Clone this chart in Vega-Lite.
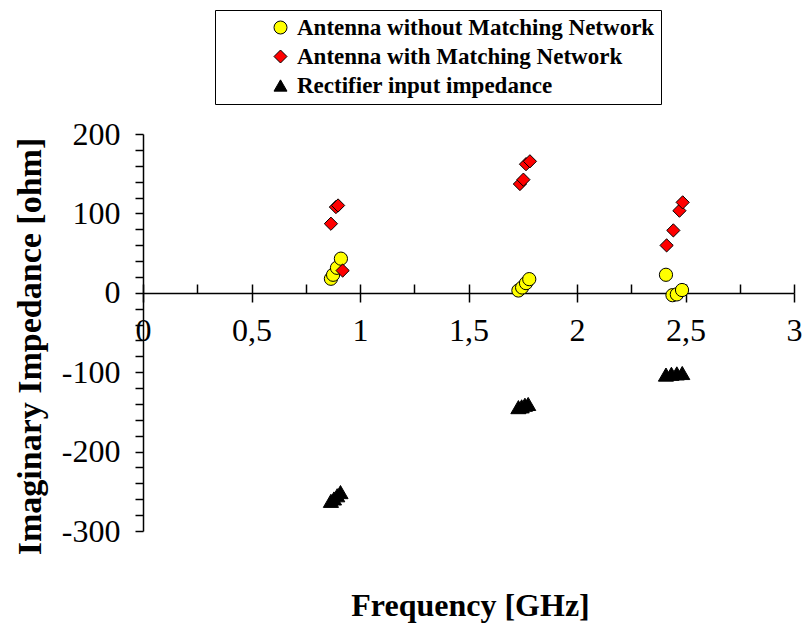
{
  "$schema": "https://vega.github.io/schema/vega-lite/v6.json",
  "width": 651,
  "height": 397,
  "autosize": "none",
  "padding": {"left": 143, "top": 134, "right": 11, "bottom": 102},
  "background": "white",
  "config": {
    "view": {"stroke": null},
    "axis": {
      "grid": false,
      "domainColor": "black",
      "tickColor": "black",
      "labelColor": "black",
      "titleColor": "black",
      "labelFont": "Liberation Serif",
      "titleFont": "Liberation Serif",
      "labelFontSize": 32,
      "titleFontSize": 32,
      "labelFontWeight": "normal",
      "titleFontWeight": "bold",
      "domainWidth": 1.5,
      "tickWidth": 1.5
    }
  },
  "data": {
    "values": [
      {"series": "Antenna without Matching Network", "freq": 0.866, "imag": 17.7},
      {"series": "Antenna without Matching Network", "freq": 0.876, "imag": 22.7},
      {"series": "Antenna without Matching Network", "freq": 0.894, "imag": 31.5},
      {"series": "Antenna without Matching Network", "freq": 0.912, "imag": 43},
      {"series": "Antenna without Matching Network", "freq": 1.73, "imag": 2.9},
      {"series": "Antenna without Matching Network", "freq": 1.747, "imag": 6.7},
      {"series": "Antenna without Matching Network", "freq": 1.765, "imag": 12.2},
      {"series": "Antenna without Matching Network", "freq": 1.78, "imag": 17.2},
      {"series": "Antenna without Matching Network", "freq": 2.41, "imag": 22.7},
      {"series": "Antenna without Matching Network", "freq": 2.44, "imag": -3},
      {"series": "Antenna without Matching Network", "freq": 2.46, "imag": -2},
      {"series": "Antenna without Matching Network", "freq": 2.484, "imag": 3.5},
      {"series": "Antenna with Matching Network", "freq": 0.866, "imag": 87},
      {"series": "Antenna with Matching Network", "freq": 0.889, "imag": 108},
      {"series": "Antenna with Matching Network", "freq": 0.899, "imag": 110},
      {"series": "Antenna with Matching Network", "freq": 0.92, "imag": 28},
      {"series": "Antenna with Matching Network", "freq": 1.737, "imag": 137},
      {"series": "Antenna with Matching Network", "freq": 1.753, "imag": 142.5},
      {"series": "Antenna with Matching Network", "freq": 1.765, "imag": 162},
      {"series": "Antenna with Matching Network", "freq": 1.783, "imag": 165.6},
      {"series": "Antenna with Matching Network", "freq": 2.413, "imag": 59.7},
      {"series": "Antenna with Matching Network", "freq": 2.444, "imag": 78.6},
      {"series": "Antenna with Matching Network", "freq": 2.472, "imag": 103.4},
      {"series": "Antenna with Matching Network", "freq": 2.487, "imag": 113.9},
      {"series": "Rectifier input impedance", "freq": 0.866, "imag": -262},
      {"series": "Rectifier input impedance", "freq": 0.88, "imag": -259},
      {"series": "Rectifier input impedance", "freq": 0.895, "imag": -255},
      {"series": "Rectifier input impedance", "freq": 0.91, "imag": -251},
      {"series": "Rectifier input impedance", "freq": 1.73, "imag": -144},
      {"series": "Rectifier input impedance", "freq": 1.745, "imag": -143},
      {"series": "Rectifier input impedance", "freq": 1.76, "imag": -141},
      {"series": "Rectifier input impedance", "freq": 1.775, "imag": -140},
      {"series": "Rectifier input impedance", "freq": 2.41, "imag": -103},
      {"series": "Rectifier input impedance", "freq": 2.435, "imag": -102},
      {"series": "Rectifier input impedance", "freq": 2.46, "imag": -101.5},
      {"series": "Rectifier input impedance", "freq": 2.485, "imag": -101}
    ]
  },
  "encoding": {
    "y": {
      "field": "imag",
      "type": "quantitative",
      "scale": {"domain": [-300, 200], "nice": false, "zero": false},
      "axis": {
        "values": [-300, -280, -260, -240, -220, -200, -180, -160, -140, -120, -100, -80, -60, -40, -20, 0, 20, 40, 60, 80, 100, 120, 140, 160, 180, 200],
        "tickSize": 8,
        "labelPadding": 15,
        "labelExpr": "datum.value % 100 === 0 ? toString(datum.value) : ''",
        "labelOverlap": false,
        "labelFlush": false,
        "title": "Imaginary Impedance [ohm]",
        "titleFontSize": 34,
        "titleX": -113,
        "titleY": 212,
        "titleAlign": "center",
        "titleBaseline": "middle",
        "titleAngle": -90
      }
    },
    "color": {
      "field": "series",
      "type": "nominal",
      "scale": {
        "domain": ["Antenna without Matching Network", "Antenna with Matching Network", "Rectifier input impedance"],
        "range": ["#FFFF00", "#FF0000", "#000000"]
      },
      "legend": {
        "orient": "none",
        "legendX": 72,
        "legendY": -124,
        "title": null,
        "strokeColor": "black",
        "fillColor": "white",
        "padding": 6,
        "labelFont": "Liberation Serif",
        "labelFontSize": 23,
        "labelFontWeight": "bold",
        "labelColor": "black",
        "labelLimit": 600,
        "symbolSize": 169,
        "symbolStrokeColor": "black",
        "symbolStrokeWidth": 1,
        "symbolOffset": 48,
        "labelOffset": 5,
        "rowPadding": 5
      }
    },
    "shape": {
      "field": "series",
      "type": "nominal",
      "scale": {
        "domain": ["Antenna without Matching Network", "Antenna with Matching Network", "Rectifier input impedance"],
        "range": ["circle", "diamond", "triangle-up"]
      },
      "legend": {
        "orient": "none",
        "legendX": 72,
        "legendY": -124,
        "title": null,
        "strokeColor": "black",
        "fillColor": "white",
        "padding": 6,
        "labelFont": "Liberation Serif",
        "labelFontSize": 23,
        "labelFontWeight": "bold",
        "labelColor": "black",
        "labelLimit": 600,
        "symbolSize": 169,
        "symbolStrokeColor": "black",
        "symbolStrokeWidth": 1,
        "symbolOffset": 48,
        "labelOffset": 5,
        "rowPadding": 5
      }
    }
  },
  "layer": [
    {
      "transform": [{"filter": "datum.series != 'Rectifier input impedance'"}],
      "mark": {"type": "point", "filled": true, "stroke": "black", "strokeWidth": 1, "size": 175, "opacity": 1},
      "encoding": {
        "x": {
          "field": "freq",
          "type": "quantitative",
          "scale": {"domain": [0, 3], "nice": false, "zero": false},
          "axis": {
            "values": [0, 0.5, 1, 1.5, 2, 2.5, 3],
            "orient": "bottom",
            "offset": -238,
            "tickSize": 9,
            "labelPadding": 13,
            "labelExpr": "replace(toString(datum.value), '.', ',')",
            "labelFlush": false,
            "labelOverlap": false,
            "labelBound": false,
            "title": "Frequency [GHz]",
            "titleX": 327,
            "titleY": 312,
            "titleAlign": "center",
            "titleBaseline": "middle"
          }
        }
      }
    },
    {
      "transform": [{"filter": "datum.series == 'Rectifier input impedance'"}],
      "mark": {"type": "point", "filled": true, "stroke": "black", "strokeWidth": 1, "size": 230, "opacity": 1},
      "encoding": {
        "x": {
          "field": "freq",
          "type": "quantitative",
          "scale": {"domain": [0, 3], "nice": false, "zero": false},
          "axis": {
            "values": [0, 0.25, 0.5, 0.75, 1, 1.25, 1.5, 1.75, 2, 2.25, 2.5, 2.75, 3],
            "orient": "top",
            "offset": -159,
            "tickSize": 9,
            "labels": false,
            "domain": false,
            "title": null
          }
        }
      }
    }
  ],
  "resolve": {"axis": {"x": "independent"}}
}
